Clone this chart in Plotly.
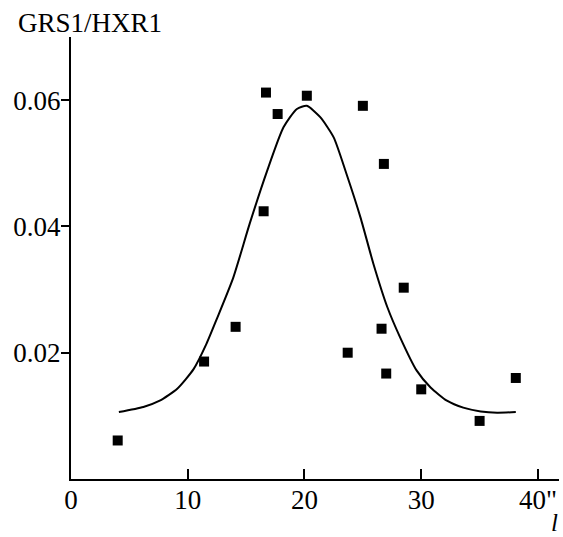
import plotly.graph_objects as go

# Measured ratio GRS1/HXR1 versus distance l (arcsec)
obs_l = [4.0, 11.4, 14.1, 16.5, 16.7, 17.7, 20.2, 23.7, 25.0, 26.6, 26.8, 27.0, 28.5, 30.0, 35.0, 38.1]
obs_ratio = [0.0061, 0.0186, 0.0241, 0.0424, 0.0612, 0.0578, 0.0607, 0.0200, 0.0591,
             0.0238, 0.0499, 0.0167, 0.0303, 0.0142, 0.0092, 0.0160]

# Smooth fitted profile
fit_l = [4.1, 6.2, 7.6, 9.1, 10.5, 11.6, 12.5, 13.9, 15.3, 16.8, 18.2, 19.35, 20.2,
         21.35, 22.5, 23.6, 24.8, 25.9, 27.1, 28.2, 29.6, 30.8, 32.2, 33.6, 35.1, 36.5, 38.1]
fit_ratio = [0.0106, 0.0114, 0.0124, 0.0143, 0.0174, 0.0214, 0.0254, 0.0319, 0.0404,
             0.0488, 0.0557, 0.0586, 0.0591, 0.0573, 0.0541, 0.0483, 0.0414, 0.0341,
             0.0272, 0.0224, 0.0172, 0.0145, 0.0124, 0.0113, 0.0107, 0.0105, 0.0106]

x_ticks = [0, 10, 20, 30, 40]
x_tick_text = ["0", "10", "20", "30", '40"']
y_ticks = [0.02, 0.04, 0.06]
y_tick_text = ["0.02", "0.04", "0.06"]

FONT = "Liberation Serif"

fig = go.Figure()
fig.add_trace(go.Scatter(
    x=fit_l, y=fit_ratio, mode="lines",
    line=dict(color="black", width=2, shape="spline", smoothing=0.6),
    hoverinfo="skip", showlegend=False,
))
fig.add_trace(go.Scatter(
    x=obs_l, y=obs_ratio, mode="markers",
    marker=dict(symbol="square", size=10, color="black", line=dict(width=0)),
    showlegend=False,
))

fig.update_layout(
    width=563, height=537,
    margin=dict(l=71, r=4, t=37, b=58),
    paper_bgcolor="white", plot_bgcolor="white",
    font=dict(family=FONT, size=27, color="black"),
    xaxis=dict(
        range=[0, 41.8], showgrid=False, zeroline=False,
        showline=True, linecolor="black", linewidth=2,
        tickmode="array", tickvals=x_ticks, ticktext=x_tick_text,
        ticks="inside", ticklen=10, tickwidth=1.5, tickcolor="black",
        ticklabelstandoff=-4,
        tickfont=dict(family=FONT, size=27),
    ),
    yaxis=dict(
        range=[0, 0.07], showgrid=False, zeroline=False,
        showline=True, linecolor="black", linewidth=2,
        tickmode="array", tickvals=y_ticks, ticktext=y_tick_text,
        ticks="outside", ticklen=8, tickwidth=1.5, tickcolor="black",
        ticklabelstandoff=-5,
        tickfont=dict(family=FONT, size=27),
    ),
    annotations=[
        dict(text="GRS1/HXR1", xref="paper", yref="paper",
             x=-(71 - 16) / 488, y=1 + 14 / 442, xanchor="left", yanchor="middle",
             showarrow=False, font=dict(family=FONT, size=27)),
        dict(text="<i>l</i>", xref="paper", yref="paper",
             x=(554 - 71) / 488, y=-(537 - 479) / 442, xanchor="center", yanchor="bottom",
             showarrow=False, borderpad=0, font=dict(family=FONT, size=25)),
    ],
)

fig.write_html("out.html")
